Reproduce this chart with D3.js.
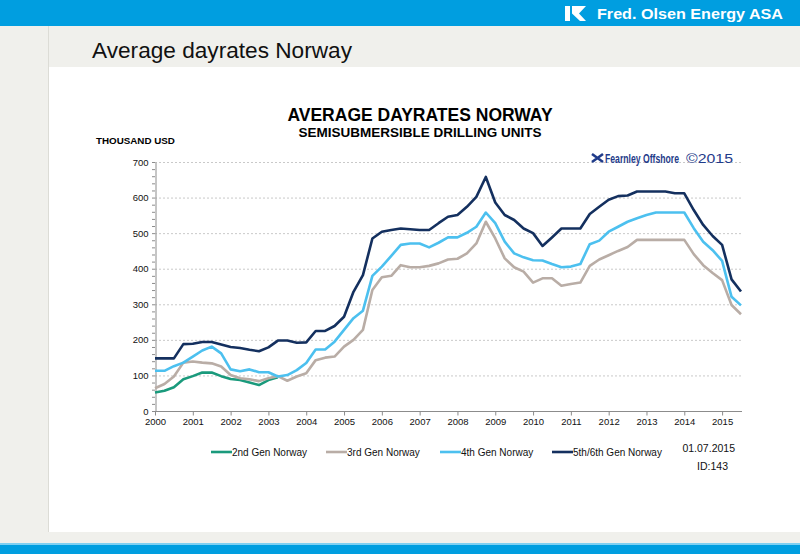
<!DOCTYPE html>
<html>
<head>
<meta charset="utf-8">
<script src="https://cdn.jsdelivr.net/npm/d3@7"></script>
<style>
  html, body { margin: 0; padding: 0; background: #fff; }
  svg { display: block; font-family: "Liberation Sans", Arial, sans-serif; }
</style>
</head>
<body>
<svg id="chart" width="800" height="554"></svg>
<script>
// ---- Data (thousand USD per day, quarterly from 2000 Q1 to 2015 Q3) ----
const quarters = d3.range(63).map(i => 2000 + i * 0.25); // quarterly time index
const yearTicks = [2000,2001,2002,2003,2004,2005,2006,2007,2008,2009,2010,2011,2012,2013,2014,2015];
const yTicks = [0,100,200,300,400,500,600,700];

const gen2 = [52,57,67,89, 98,108,108,98, 90,87,80,73, 87,95];
const gen3 = [64,76,97,136, 139,136,134,125, 101,92,89,84, 92,98,85,97,
              106,143,150,153, 181,200,228,340, 376,380,410,404, 404,408,415,426,
              428,443,471,532, 485,429,404,392, 361,373,373,352, 357,361,408,426,
              438,450,461,481, 481,481,481,481, 481,441,410,388, 368,298,272];
const gen4 = [113,113,126,136, 153,170,181,162, 117,112,117,109, 109,97,101,115,
              135,173,173,195, 228,261,282,380, 406,436,467,471, 471,460,473,488,
              488,501,518,558, 528,476,443,432, 424,423,413,404, 406,413,469,479,
              504,518,532,542, 551,558,558,558, 558,514,476,452, 422,321,297];
const gen56 = [148,148,148,188, 189,194,194,187, 180,177,172,168, 179,198,198,192,
               193,225,225,239, 265,335,382,485, 504,509,513,511, 509,509,528,546,
               551,574,602,658, 586,551,537,513, 500,464,488,513, 513,513,554,574,
               594,604,606,617, 617,617,617,612, 612,565,523,492, 467,370,336];

const seriesNames = ["2nd Gen Norway","3rd Gen Norway","4th Gen Norway","5th/6th Gen Norway"];
const seriesColors = ["#1a9a7c","#b9ada6","#4cc0ef","#14305f"];
const seriesValues = [gen2, gen3, gen4, gen56];

// ---- Page frame ----
const svg = d3.select("#chart");
svg.append("rect").attr("x",0).attr("y",0).attr("width",800).attr("height",554).attr("fill","#ffffff");
svg.append("rect").attr("x",0).attr("y",26).attr("width",800).attr("height",41).attr("fill","#f0f0ec");
svg.append("rect").attr("x",0).attr("y",26).attr("width",48).attr("height",520).attr("fill","#f0f0ec");
svg.append("line").attr("x1",48.5).attr("x2",48.5).attr("y1",26).attr("y2",546).attr("stroke","#dcdcd6");
svg.append("rect").attr("x",0).attr("y",532).attr("width",800).attr("height",12).attr("fill","#f0f0ec");
svg.append("rect").attr("x",0).attr("y",543).attr("width",800).attr("height",2).attr("fill","#7fd0f2");
svg.append("rect").attr("x",0).attr("y",545).attr("width",800).attr("height",9).attr("fill","#009ee0");
svg.append("rect").attr("x",0).attr("y",0).attr("width",800).attr("height",26).attr("fill","#009ee0");
// Fred. Olsen logo mark
svg.append("path").attr("d","M565,6 L570,6 L570,21 L565,21 Z M572,6 L586,6 L579,13.5 L586,21 L580,21 L572,13.5 Z")
  .attr("fill","#ffffff");
svg.append("text").attr("x",783).attr("y",19).attr("text-anchor","end")
  .attr("fill","#ffffff").attr("font-size",15).attr("font-weight","bold")
  .attr("textLength",186).attr("lengthAdjust","spacingAndGlyphs")
  .text("Fred. Olsen Energy ASA");

// page title
svg.append("text").attr("x",92).attr("y",58).attr("fill","#111").attr("font-size",22.5)
  .attr("textLength",260).attr("lengthAdjust","spacingAndGlyphs")
  .text("Average dayrates Norway");

// ---- Chart ----
const x = d3.scaleLinear().domain([2000, 2015.5]).range([155, 741]);
const y = d3.scaleLinear().domain([0, 700]).range([411, 162]);

svg.append("text").attr("x",420).attr("y",121).attr("text-anchor","middle")
  .attr("font-size",17.5).attr("font-weight","bold").attr("fill","#000")
  .text("AVERAGE DAYRATES NORWAY");
svg.append("text").attr("x",420).attr("y",137).attr("text-anchor","middle")
  .attr("font-size",13.5).attr("font-weight","bold").attr("fill","#000")
  .text("SEMISUBMERSIBLE DRILLING UNITS");
svg.append("text").attr("x",96).attr("y",144)
  .attr("font-size",9.8).attr("font-weight","bold").attr("fill","#000")
  .text("THOUSAND USD");

// gridlines
svg.append("g").selectAll("line").data(yTicks.filter(d => d > 0)).join("line")
  .attr("x1",155).attr("x2",742).attr("y1",d => y(d) + 0.5).attr("y2",d => y(d) + 0.5)
  .attr("stroke","#c9c9c9").attr("stroke-dasharray","2,2").attr("stroke-width",1);

// y axis
const yAxis = svg.append("g").attr("transform","translate(155.5,0)")
  .call(d3.axisLeft(y).tickValues(yTicks).tickSize(0).tickPadding(7));
yAxis.select(".domain").attr("stroke","#8c8c8c");
yAxis.selectAll("text").attr("font-size",9.5).attr("fill","#111").attr("font-family","Liberation Sans, Arial, sans-serif");
svg.append("g").selectAll("line").data(d3.range(0, 701, 20)).join("line")
  .attr("x1",152).attr("x2",155).attr("y1",d => y(d) + 0.5).attr("y2",d => y(d) + 0.5)
  .attr("stroke","#8c8c8c");

// x axis
const xAxis = svg.append("g").attr("transform","translate(0,411.5)")
  .call(d3.axisBottom(x).tickValues(yearTicks).tickFormat(d3.format("d")).tickSize(4).tickSizeOuter(0).tickPadding(3));
xAxis.select(".domain").attr("stroke","#8c8c8c").attr("d","M155,0H742");
xAxis.selectAll(".tick line").attr("stroke","#8c8c8c");
xAxis.selectAll("text").attr("font-size",9.5).attr("fill","#111").attr("font-family","Liberation Sans, Arial, sans-serif");

// Fearnley Offshore watermark (condensed via horizontal scaling)
const fl = svg.append("g");
fl.append("path").attr("d","M592,154 L603,162 M592,162 L603,154").attr("stroke","#1f3b8a").attr("stroke-width",2.6);
const flName = fl.append("text").attr("x",0).attr("y",0).attr("font-size",13.5).attr("font-weight","bold")
  .attr("fill","#1f3b8a").text("Fearnley Offshore");
const nameW = flName.node().getComputedTextLength();
flName.attr("transform",`translate(605,163) scale(${74 / nameW},1)`);
const flCopy = fl.append("text").attr("x",0).attr("y",0).attr("font-size",13)
  .attr("fill","#1f3b8a").text("©2015");
const copyW = flCopy.node().getComputedTextLength();
flCopy.attr("transform",`translate(686,163) scale(${47 / copyW},1)`);

// lines
const line = d3.line().x((d, i) => x(quarters[i])).y(d => y(d));
svg.append("g").selectAll("path").data(seriesValues).join("path")
  .attr("d", d => line(d))
  .attr("fill","none")
  .attr("stroke",(d, i) => seriesColors[i])
  .attr("stroke-width",2.6)
  .attr("stroke-linejoin","round");

// legend
const legendX = [211, 326, 440, 552];
const lg = svg.append("g").selectAll("g").data(seriesNames).join("g")
  .attr("transform",(d, i) => `translate(${legendX[i]},452)`);
lg.append("line").attr("x1",0).attr("x2",21).attr("y1",0).attr("y2",0)
  .attr("stroke",(d, i) => seriesColors[i]).attr("stroke-width",2.6);
lg.append("text").attr("x",21).attr("y",3.5).attr("font-size",10).attr("fill","#111").text(d => d);

svg.append("text").attr("x",735).attr("y",452).attr("text-anchor","end").attr("font-size",10.5).attr("fill","#111").text("01.07.2015");
svg.append("text").attr("x",728).attr("y",470).attr("text-anchor","end").attr("font-size",10.5).attr("fill","#111").text("ID:143");
</script>
</body>
</html>
